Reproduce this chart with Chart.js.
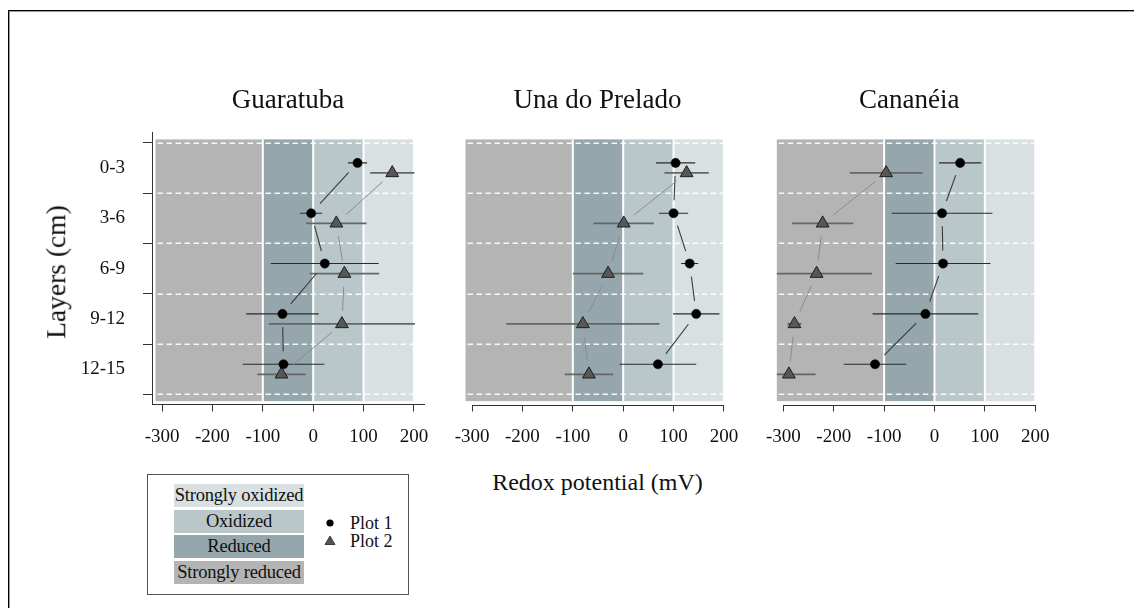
<!DOCTYPE html>
<html>
<head>
<meta charset="utf-8">
<title>Redox potential by layer</title>
<script src="https://cdn.jsdelivr.net/npm/chart.js@4.4.1/dist/chart.umd.min.js"></script>
<style>
  html, body { margin: 0; padding: 0; background: #fff; }
  body {
    width: 1134px; height: 608px; position: relative; overflow: hidden;
    font-family: 'Liberation Serif', 'Times New Roman', serif; color: #111;
  }
  .frame {
    position: absolute; left: 8px; top: 10px; width: 1140px; height: 610px;
    border-left: 1px solid #000; border-top: 1px solid #000;
    box-shadow: inset 1px 1px 0 #9c9c9c;
  }
  canvas { position: absolute; }
  .txt { position: absolute; white-space: nowrap; line-height: 1; }
  .title { font-size: 27px; transform: translateX(-50%); }
  .legend {
    position: absolute; left: 147px; top: 474px; width: 260px; height: 119px;
    border: 1px solid #555; background: #fff;
  }
  .swatch {
    position: absolute; left: 26px; width: 130px; height: 23px;
    font-size: 18.5px; line-height: 23px; text-align: center; letter-spacing: -0.2px;
  }
  .key { position: absolute; left: 202px; font-size: 18px; line-height: 18px; }
</style>
</head>
<body>
<div class="frame"></div>

<canvas id="panel0" width="450" height="360" style="left:0px;top:90px"></canvas>
<canvas id="panel1" width="310" height="360" style="left:440px;top:90px"></canvas>
<canvas id="panel2" width="310" height="360" style="left:750px;top:90px"></canvas>

<div class="txt title" id="title0" style="left:288px;top:85.5px"></div>
<div class="txt title" id="title1" style="left:597.5px;top:85.5px"></div>
<div class="txt title" id="title2" style="left:909.3px;top:85.5px"></div>

<div class="txt" id="xTitle" style="left:597.5px;top:470px;font-size:24px;transform:translateX(-50%)">Redox potential (mV)</div>
<div class="txt" id="yTitle" style="left:56px;top:271.5px;font-size:27.5px;transform:translate(-50%,-50%) rotate(-90deg)">Layers (cm)</div>

<div class="legend" id="legend">
  <div class="swatch" id="zone3" style="top:9px"></div>
  <div class="swatch" id="zone2" style="top:34.5px"></div>
  <div class="swatch" id="zone1" style="top:60px"></div>
  <div class="swatch" id="zone0" style="top:85.5px"></div>
  <svg width="16" height="36" style="position:absolute;left:174px;top:39px" viewBox="0 0 16 36">
    <circle cx="8" cy="9" r="3.6" fill="#000"/>
    <polygon points="8,22 13,30.5 3,30.5" fill="#555" stroke="#222" stroke-width="0.8"/>
  </svg>
  <div class="key" id="key0" style="top:39px"></div>
  <div class="key" id="key1" style="top:57px"></div>
</div>

<script>
// Depth layers (cm): labels, midpoints and boundaries on the depth axis
const LAYER_LABELS = ['0-3', '3-6', '6-9', '9-12', '12-15'];
const LAYER_MID = [1.5, 4.5, 7.5, 10.5, 13.5];
const LAYER_EDGES = [0, 3, 6, 9, 12, 15];

// Redox axis ticks (mV)
const X_TICKS = [-300, -200, -100, 0, 100, 200];

// Estuaries (one panel each)
const SITES = ['Guaratuba', 'Una do Prelado', 'Cananéia'];

// Mean redox potential (mV) and error per layer
const GUARATUBA_P1 = [88, -4, 23, -61, -59];
const GUARATUBA_P1_ERR = [19, 22, 107, 72, 81];
const GUARATUBA_P2 = [157, 46, 62, 57, -63];
const GUARATUBA_P2_ERR = [44, 60, 69, 145, 48];

const UNA_P1 = [104, 100, 132, 145, 69];
const UNA_P1_ERR = [39, 29, 17, 46, 76];
const UNA_P2 = [126, 1, -30, -80, -68];
const UNA_P2_ERR = [44, 60, 70, 152, 48];

const CANANEIA_P1 = [51, 15, 17, -18, -118];
const CANANEIA_P1_ERR = [42, 100, 94, 105, 62];
const CANANEIA_P2 = [-96, -222, -234, -278, -289];
const CANANEIA_P2_ERR = [72, 61, 110, 14, 53];

// Redox classes (mV ranges)
const ZONE_NAMES = ['Strongly reduced', 'Reduced', 'Oxidized', 'Strongly oxidized'];
const ZONE_FROM = [-313, -100, 0, 100];
const ZONE_TO = [-100, 0, 100, 198];

const SERIES_NAMES = ['Plot 1', 'Plot 2'];

// ---- styling ----
const ZONE_COLORS = ['#b4b4b4', '#95a7ac', '#b9c7cb', '#d8e0e2'];
const FONT = "'Liberation Serif', 'Times New Roman', serif";
const DODGE = 0.3;          // vertical offset of the two plots inside a layer
const LINE_GAP = 13;        // px left open around each marker by the connecting lines
const SERIES_STYLE = [
  { err: '#2a2a2a', errW: 1.1, line: '#3a3a3a', lineW: 1.1 },
  { err: '#666666', errW: 1.8, line: '#8c8c8c', lineW: 1.0 }
];

// Fill text
SITES.forEach((s, i) => { document.getElementById('title' + i).textContent = s; });
ZONE_NAMES.forEach((z, i) => {
  const el = document.getElementById('zone' + i);
  el.textContent = z;
  el.style.background = ZONE_COLORS[i];
});
SERIES_NAMES.forEach((n, i) => { document.getElementById('key' + i).textContent = n; });

// Background redox classes, layer boundaries, error bars and gapped connecting lines
const panelDecor = {
  id: 'panelDecor',
  beforeDatasetsDraw(chart) {
    const { ctx, chartArea } = chart;
    const xs = chart.scales.x, ys = chart.scales.y;
    const top = ys.getPixelForValue(-0.2), bottom = ys.getPixelForValue(15.4);
    ctx.save();
    // classes
    for (let i = 0; i < ZONE_NAMES.length; i++) {
      const x0 = xs.getPixelForValue(ZONE_FROM[i]);
      const x1 = xs.getPixelForValue(ZONE_TO[i]);
      ctx.fillStyle = ZONE_COLORS[i];
      ctx.fillRect(x0, top, x1 - x0, bottom - top);
    }
    // white separators between classes
    ctx.strokeStyle = '#ffffff';
    ctx.lineWidth = 2;
    for (let i = 1; i < ZONE_NAMES.length; i++) {
      const x = xs.getPixelForValue(ZONE_FROM[i]);
      ctx.beginPath(); ctx.moveTo(x, top); ctx.lineTo(x, bottom); ctx.stroke();
    }
    // dashed layer boundaries
    const left = xs.getPixelForValue(ZONE_FROM[0]);
    const right = xs.getPixelForValue(ZONE_TO[ZONE_TO.length - 1]);
    ctx.setLineDash([5.5, 3.5]);
    ctx.lineWidth = 1.5;
    ctx.strokeStyle = 'rgba(255,255,255,0.9)';
    LAYER_EDGES.forEach(d => {
      const y = Math.round(ys.getPixelForValue(d)) + 0.25;
      ctx.beginPath(); ctx.moveTo(left + 2, y); ctx.lineTo(right, y); ctx.stroke();
    });
    ctx.setLineDash([]);

    // error bars (clipped to the plotted class range on the left)
    ctx.save();
    ctx.beginPath();
    ctx.rect(left, chartArea.top, chartArea.right - left, chartArea.bottom - chartArea.top);
    ctx.clip();
    chart.data.datasets.forEach((ds, di) => {
      const st = SERIES_STYLE[di];
      ctx.strokeStyle = st.err; ctx.lineWidth = st.errW;
      ds.data.forEach(p => {
        const y = ys.getPixelForValue(p.y);
        ctx.beginPath();
        ctx.moveTo(xs.getPixelForValue(p.x - p.err), y);
        ctx.lineTo(xs.getPixelForValue(p.x + p.err), y);
        ctx.stroke();
      });
    });
    ctx.restore();

    // connecting lines with a gap round each marker
    chart.data.datasets.forEach((ds, di) => {
      const st = SERIES_STYLE[di];
      ctx.strokeStyle = st.line; ctx.lineWidth = st.lineW;
      for (let i = 1; i < ds.data.length; i++) {
        const ax = xs.getPixelForValue(ds.data[i - 1].x), ay = ys.getPixelForValue(ds.data[i - 1].y);
        const bx = xs.getPixelForValue(ds.data[i].x), by = ys.getPixelForValue(ds.data[i].y);
        const len = Math.hypot(bx - ax, by - ay);
        if (len <= 2 * LINE_GAP) continue;
        const ux = (bx - ax) / len, uy = (by - ay) / len;
        ctx.beginPath();
        ctx.moveTo(ax + ux * LINE_GAP, ay + uy * LINE_GAP);
        ctx.lineTo(bx - ux * LINE_GAP, by - uy * LINE_GAP);
        ctx.stroke();
      }
    });
    ctx.restore();
  },
  afterDraw(chart, args, opts) {
    if (!opts.bracketAxis) return;
    // x axis line spanning the first to the last tick
    const { ctx, chartArea } = chart;
    const xs = chart.scales.x;
    const y = Math.round(chartArea.bottom) + 0.5;
    ctx.save();
    ctx.strokeStyle = '#333'; ctx.lineWidth = 1;
    ctx.beginPath();
    ctx.moveTo(xs.getPixelForValue(X_TICKS[0]), y);
    ctx.lineTo(xs.getPixelForValue(X_TICKS[X_TICKS.length - 1]), y);
    ctx.stroke();
    ctx.restore();
  }
};

function series(values, errs, offset) {
  return values.map((v, i) => ({ x: v, y: LAYER_MID[i] + offset, err: errs[i] }));
}

function makePanel(idx, p1, p1err, p2, p2err, pad) {
  const first = idx === 0;
  return new Chart(document.getElementById('panel' + idx), {
    type: 'scatter',
    data: {
      datasets: [
        {
          label: SERIES_NAMES[0],
          data: series(p1, p1err, -DODGE),
          pointStyle: 'circle', pointRadius: 4.6,
          backgroundColor: '#000', borderColor: '#000', borderWidth: 0.5,
          showLine: false, clip: false
        },
        {
          label: SERIES_NAMES[1],
          data: series(p2, p2err, DODGE),
          pointStyle: 'triangle', pointRadius: 7.4,
          backgroundColor: '#575757', borderColor: '#1e1e1e', borderWidth: 1,
          showLine: false, clip: false
        }
      ]
    },
    options: {
      responsive: false,
      animation: false,
      events: [],
      layout: { padding: { left: pad.left, right: pad.right, top: 42.7, bottom: 0 } },
      plugins: {
        legend: { display: false },
        tooltip: { enabled: false },
        panelDecor: { bracketAxis: !first }
      },
      scales: {
        x: {
          type: 'linear', min: -320, max: 220,
          afterBuildTicks: s => { s.ticks = X_TICKS.map(v => ({ value: v })); },
          afterFit: s => { s.height = 45.5; s.paddingLeft = 0; s.paddingRight = 0; },
          ticks: {
            autoSkip: false, maxRotation: 0, padding: 14, color: '#111',
            font: { family: FONT, size: 19 }
          },
          grid: { drawOnChartArea: false, drawTicks: true, tickLength: 7, tickColor: '#333', tickWidth: 1 },
          border: { display: first, color: '#333', width: 1 }
        },
        y: {
          type: 'linear', reverse: true, min: -0.6, max: 15.6, display: first,
          afterBuildTicks: s => {
            const vals = LAYER_EDGES.concat(LAYER_MID).sort((a, b) => a - b);
            s.ticks = vals.map(v => ({ value: v }));
          },
          afterFit: s => { s.width = first ? 152 : 0; s.paddingTop = 0; s.paddingBottom = 0; },
          ticks: {
            autoSkip: false, padding: 18, color: '#111',
            font: { family: FONT, size: 19 },
            callback: v => { const i = LAYER_MID.indexOf(v); return i >= 0 ? LAYER_LABELS[i] : ''; }
          },
          grid: {
            drawOnChartArea: false, drawTicks: true, tickLength: 9, tickWidth: 1,
            tickColor: c => (c.tick && LAYER_EDGES.includes(c.tick.value)) ? '#333' : 'rgba(0,0,0,0)'
          },
          border: { display: true, color: '#333', width: 1 }
        }
      }
    },
    plugins: [panelDecor]
  });
}

makePanel(0, GUARATUBA_P1, GUARATUBA_P1_ERR, GUARATUBA_P2, GUARATUBA_P2_ERR, { left: 0, right: 26 });
makePanel(1, UNA_P1, UNA_P1_ERR, UNA_P2, UNA_P2_ERR, { left: 22, right: 16 });
makePanel(2, CANANEIA_P1, CANANEIA_P1_ERR, CANANEIA_P2, CANANEIA_P2_ERR, { left: 23.3, right: 14.7 });
</script>
</body>
</html>
